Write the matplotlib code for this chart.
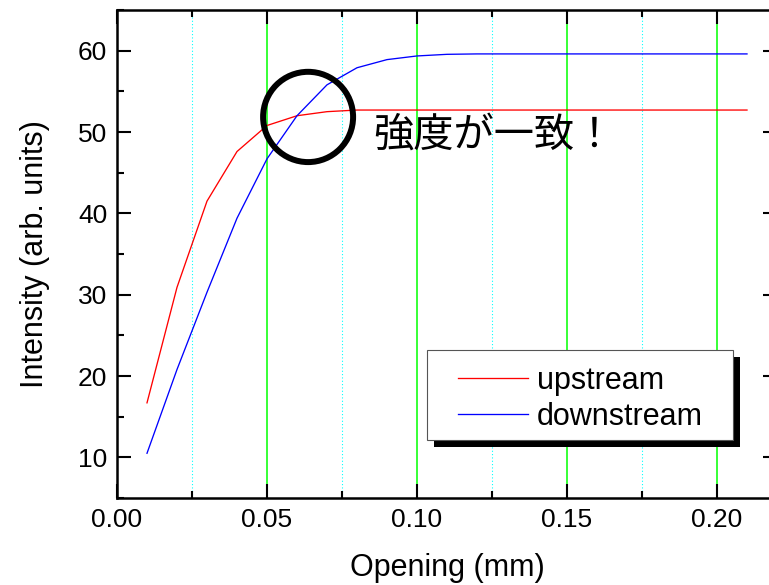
import numpy as np
import matplotlib
matplotlib.use("Agg")
import matplotlib.pyplot as plt
from matplotlib.patches import Ellipse, Rectangle
from matplotlib.ticker import MultipleLocator

plt.rcParams['font.family'] = ['Liberation Sans', 'DejaVu Sans']

# opening width (mm) and measured intensity
opening = [0.01, 0.02, 0.03, 0.04, 0.05, 0.06, 0.07, 0.08, 0.09, 0.10,
           0.11, 0.12, 0.13, 0.14, 0.15, 0.16, 0.17, 0.18, 0.19, 0.20, 0.21]
upstream = [16.7, 30.9, 41.5, 47.6, 50.8, 52.0, 52.5, 52.7, 52.7, 52.7,
            52.7, 52.7, 52.7, 52.7, 52.7, 52.7, 52.7, 52.7, 52.7, 52.7, 52.7]
downstream = [10.5, 20.8, 30.3, 39.4, 46.7, 52.0, 55.8, 57.9, 58.9, 59.35,
              59.55, 59.6, 59.6, 59.6, 59.6, 59.6, 59.6, 59.6, 59.6, 59.6, 59.6]

W, H = 769, 585
fig = plt.figure(figsize=(W / 100, H / 100), dpi=100)
ax = fig.add_axes([117 / W, (H - 498) / H, 660 / W, 488 / H])

ax.plot(opening, upstream, color='red', lw=0.95, label='upstream', zorder=3)
ax.plot(opening, downstream, color='blue', lw=0.95, label='downstream', zorder=3)

ax.set_xlim(0, 0.22)
ax.set_ylim(5, 65)
ax.xaxis.set_major_locator(MultipleLocator(0.05))
ax.xaxis.set_minor_locator(MultipleLocator(0.025))
ax.yaxis.set_major_locator(MultipleLocator(10))
ax.yaxis.set_minor_locator(MultipleLocator(5))
ax.xaxis.set_major_formatter(plt.FormatStrFormatter('%.2f'))

ax.grid(True, which='major', axis='x', color='#00ff00', lw=1.1, ls='-')
ax.grid(True, which='minor', axis='x', color='#00ffff', lw=0.8, ls=(0, (1, 2)))
ax.set_axisbelow(True)

ax.tick_params(which='both', direction='in', top=True, right=True,
               labelsize=19, width=1.5, pad=7)
ax.tick_params(which='major', length=10)
ax.tick_params(which='minor', length=5)
for s in ax.spines.values():
    s.set_linewidth(1.8)

ax.set_xlabel('Opening (mm)', fontsize=22, labelpad=15)
ax.set_ylabel('Intensity (arb. units)', fontsize=22, labelpad=20)

# circle around the crossing point
ax.add_patch(Ellipse((0.0637, 51.85), 0.030, 11.1, fill=False,
                     ec='black', lw=4.3, zorder=4))
ax.text(0.0855, 49.6, '強度が一致！', fontsize=29, va='center', ha='left',
        family=['Noto Sans CJK JP', 'DejaVu Sans'])

# legend box with a solid drop shadow (axes fraction)
bx, by, bw, bh = 310 / 660, 58 / 488, 306 / 660, 90 / 488
ax.add_patch(Rectangle((bx + 7 / 660, by - 7 / 488), bw, bh, transform=ax.transAxes,
                       fc='black', ec='none', zorder=5, clip_on=False))
ax.add_patch(Rectangle((bx, by), bw, bh, transform=ax.transAxes,
                       fc='white', ec='#555555', lw=0.8, zorder=6, clip_on=False))

leg = ax.legend(loc='upper left', bbox_to_anchor=(341 / 660, 1 - 356 / 488),
                fontsize=22, frameon=False, borderpad=0,
                handlelength=2.3, handletextpad=0.28, labelspacing=0.2,
                borderaxespad=0)
leg.set_zorder(7)

fig.savefig('out.png', dpi=100)
